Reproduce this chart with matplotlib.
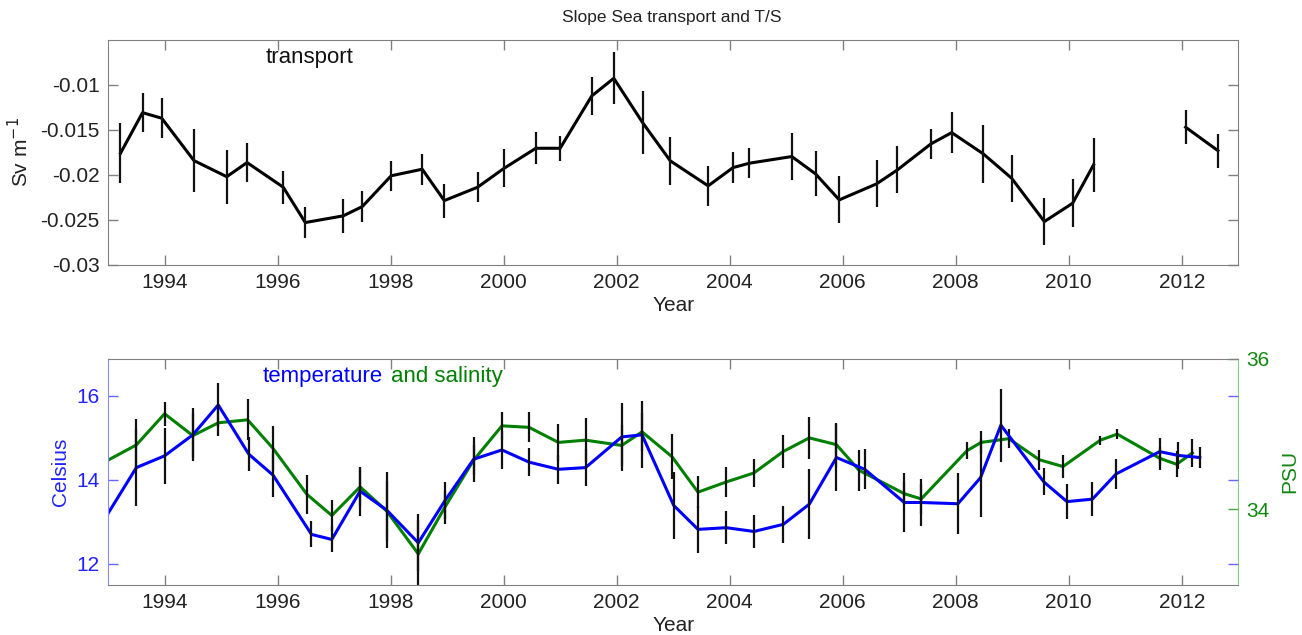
import numpy as np
import matplotlib.pyplot as plt

plt.rcParams['font.family'] = ['Liberation Sans', 'DejaVu Sans']
plt.rcParams['axes.unicode_minus'] = False

# --- transport (Sv per m), nan marks the missing 2011 value ---
tr_year = [1993.22, 1993.61, 1993.95, 1994.52, 1995.10, 1995.46, 1996.10, 1996.49,
           1997.16, 1997.50, 1998.01, 1998.56, 1998.95, 1999.54, 2000.01, 2000.57,
           2001.00, 2001.56, 2001.95, 2002.46, 2002.95, 2003.62, 2004.06, 2004.35,
           2005.10, 2005.52, 2005.94, 2006.60, 2006.97, 2007.56, 2007.93, 2008.49,
           2008.99, 2009.57, 2010.07, 2010.44, 2011.20, 2012.07, 2012.64]
tr_val = [-0.01759, -0.01308, -0.01370, -0.01841, -0.02020, -0.01863, -0.02137, -0.02530,
          -0.02456, -0.02352, -0.02010, -0.01937, -0.02286, -0.02137, -0.01926, -0.01704,
          -0.01704, -0.01122, -0.00926, -0.01419, -0.01844, -0.02122, -0.01919, -0.01870,
          -0.01796, -0.01989, -0.02278, -0.02100, -0.01944, -0.01656, -0.01530, -0.01767,
          -0.02037, -0.02519, -0.02315, -0.01889, np.nan, -0.01470, -0.01730]
tr_err = [0.00333, 0.00219, 0.00220, 0.00350, 0.00300, 0.00220, 0.00185, 0.00170,
          0.00190, 0.00170, 0.00167, 0.00170, 0.00190, 0.00170, 0.00210, 0.00180,
          0.00137, 0.00210, 0.00290, 0.00350, 0.00270, 0.00220, 0.00170, 0.00170,
          0.00260, 0.00250, 0.00260, 0.00260, 0.00260, 0.00170, 0.00230, 0.00320,
          0.00260, 0.00260, 0.00270, 0.00300, np.nan, 0.00190, 0.00190]

# --- temperature (Celsius) ---
t_year = [1993.00, 1993.50, 1994.00, 1994.50, 1994.95, 1995.49, 1995.92, 1996.60,
          1996.96, 1997.46, 1997.93, 1998.49, 1998.96, 1999.47, 1999.97, 2000.45,
          2000.97, 2001.45, 2002.09, 2002.45, 2003.01, 2003.44, 2003.94, 2004.43,
          2004.95, 2005.41, 2005.89, 2006.39, 2007.09, 2007.39, 2008.04, 2008.44,
          2008.80, 2009.56, 2009.97, 2010.42, 2010.84, 2011.61, 2011.94, 2012.32]
t_val = [13.20, 14.29, 14.57, 15.07, 15.78, 14.61, 14.11, 12.70,
         12.58, 13.73, 13.28, 12.50, 13.50, 14.49, 14.71, 14.42,
         14.25, 14.29, 15.02, 15.07, 13.39, 12.82, 12.86, 12.77,
         12.94, 13.42, 14.53, 14.25, 13.46, 13.46, 13.43, 14.05,
         15.30, 13.95, 13.48, 13.54, 14.14, 14.67, 14.58, 14.53]
t_err = [np.nan, 0.91, 0.67, 0.63, 0.53, 0.40, 0.53, 0.31,
         0.31, 0.58, 0.90, 0.68, 0.44, 0.54, 0.46, 0.33,
         0.35, 0.44, 0.80, 0.80, 0.79, 0.56, 0.40, 0.40,
         0.44, 0.84, 0.80, 0.48, 0.71, 0.56, 0.73, 0.93,
         0.87, 0.32, 0.42, 0.41, 0.35, 0.32, 0.32, 0.24]

# --- salinity (PSU) ---
s_year = [1993.00, 1993.50, 1994.00, 1994.50, 1994.95, 1995.47, 1995.92, 1996.52,
          1996.96, 1997.46, 1997.93, 1998.49, 1998.96, 1999.47, 1999.97, 2000.45,
          2000.97, 2001.45, 2002.09, 2002.45, 2002.98, 2003.44, 2003.94, 2004.43,
          2004.95, 2005.41, 2005.89, 2006.29, 2007.09, 2007.39, 2008.20, 2008.45,
          2008.94, 2009.48, 2009.90, 2010.56, 2010.86, 2011.61, 2011.91, 2012.19]
s_val = [34.655, 34.856, 35.27, 34.98, 35.15, 35.19, 34.81, 34.20,
         33.92, 34.30, 33.98, 33.41, 34.03, 34.655, 35.11, 35.09,
         34.89, 34.92, 34.85, 35.03, 34.70, 34.23, 34.365, 34.485,
         34.77, 34.95, 34.86, 34.52, 34.21, 34.14, 34.78, 34.89,
         34.94, 34.66, 34.57, 34.92, 35.00, 34.68, 34.60, 34.75]
s_err = [np.nan, 0.34, 0.16, 0.30, 0.17, 0.27, 0.30, 0.26,
         0.21, 0.25, 0.40, 0.45, 0.22, 0.20, 0.19, 0.20,
         0.25, 0.29, 0.27, 0.25, 0.30, 0.21, 0.20, 0.19,
         0.22, 0.28, 0.29, 0.27, 0.15, 0.20, 0.11, 0.15,
         0.13, 0.13, 0.15, 0.06, 0.07, 0.15, 0.17, 0.18]

year_ticks = list(range(1994, 2013, 2))
tr_ticks = [-0.03, -0.025, -0.02, -0.015, -0.01]
tr_ticklabels = ['-0.03', '-0.025', '-0.02', '-0.015', '-0.01']
t_ticks = [12, 14, 16]
s_ticks = [34, 36]

grey = '#808080'
blue = '#0000ff'
green = '#008000'
fs = 15

fig = plt.figure(figsize=(13.02, 6.35), dpi=100)

# top panel: transport
ax1 = fig.add_axes([0.083, 0.583, 0.868, 0.354])
ax1.plot(tr_year, tr_val, color='k', lw=2.2)
ax1.errorbar(tr_year, tr_val, yerr=tr_err, fmt='none', ecolor='#111111', elinewidth=1.6, capsize=0)
ax1.set_xlim(1993, 2013)
ax1.set_ylim(-0.03, -0.005)
ax1.set_xticks(year_ticks)
ax1.set_yticks(tr_ticks)
ax1.set_yticklabels(tr_ticklabels)
for sp in ax1.spines.values():
    sp.set_color(grey)
ax1.tick_params(direction='in', length=7, width=1, color=grey, labelcolor='#222222',
                top=True, right=True, labelsize=fs, pad=6)
ax1.set_xlabel('Year', fontsize=fs, color='#222222')
ax1.xaxis.set_label_coords(0.5, -0.138)
ax1.set_ylabel('Sv m$^{-1}$', fontsize=fs, color='#222222')
ax1.yaxis.set_label_coords(-0.067, 0.5)
ax1.text(0.178, 0.92, 'transport', transform=ax1.transAxes, fontsize=16,
         ha='center', va='center', color='#111111')

fig.text(0.516, 0.973, 'Slope Sea transport and T/S', fontsize=12.5, ha='center', va='center',
         color='#222222')

# bottom panel: temperature (left) and salinity (right)
ax3 = fig.add_axes([0.083, 0.079, 0.868, 0.356])
ax4 = ax3.twinx()
ax3.set_zorder(ax4.get_zorder() + 1)
ax3.patch.set_visible(False)

ax4.plot(s_year, s_val, color=green, lw=2.2)
ax4.errorbar(s_year, s_val, yerr=s_err, fmt='none', ecolor='#111111', elinewidth=1.6, capsize=0)
ax3.plot(t_year, t_val, color=blue, lw=2.2)
ax3.errorbar(t_year, t_val, yerr=t_err, fmt='none', ecolor='#111111', elinewidth=1.6, capsize=0)

ax3.set_xlim(1993, 2013)
ax3.set_ylim(11.5, 16.88)
ax4.set_ylim(33, 36)
ax3.set_xticks(year_ticks)
ax3.set_yticks(t_ticks)
ax4.set_yticks(s_ticks)

ax3.spines['top'].set_color(grey)
ax3.spines['bottom'].set_color(grey)
ax3.spines['left'].set_color('#8888ff')
ax3.spines['right'].set_visible(False)
for side in ['left', 'top', 'bottom']:
    ax4.spines[side].set_visible(False)
ax4.spines['right'].set_color('#88cc88')

ax3.tick_params(axis='x', direction='in', length=7, width=1, color=grey, labelcolor='#222222',
                top=True, labelsize=fs, pad=6)
ax3.tick_params(axis='y', direction='in', length=7, width=1, color='#6666ff', labelcolor='#2222ff',
                left=True, right=True, labelsize=fs, pad=6)
ax4.tick_params(axis='y', direction='in', length=7, width=1, color='#44aa44', labelcolor='#118811',
                labelsize=fs, pad=6)

ax3.set_xlabel('Year', fontsize=fs, color='#222222')
ax3.xaxis.set_label_coords(0.5, -0.137)
ax3.set_ylabel('Celsius', fontsize=fs, color='#2222ff')
ax3.yaxis.set_label_coords(-0.034, 0.5)
ax4.set_ylabel('PSU', fontsize=fs, color='#118811', rotation=90, va='center', ha='center')
ax4.yaxis.set_label_coords(1.046, 0.5)

ax3.text(0.243, 0.92, 'temperature', transform=ax3.transAxes, fontsize=16,
         ha='right', va='center', color=blue)
ax3.text(0.250, 0.92, 'and salinity', transform=ax3.transAxes, fontsize=16,
         ha='left', va='center', color=green)

fig.savefig('out.png', dpi=100)
